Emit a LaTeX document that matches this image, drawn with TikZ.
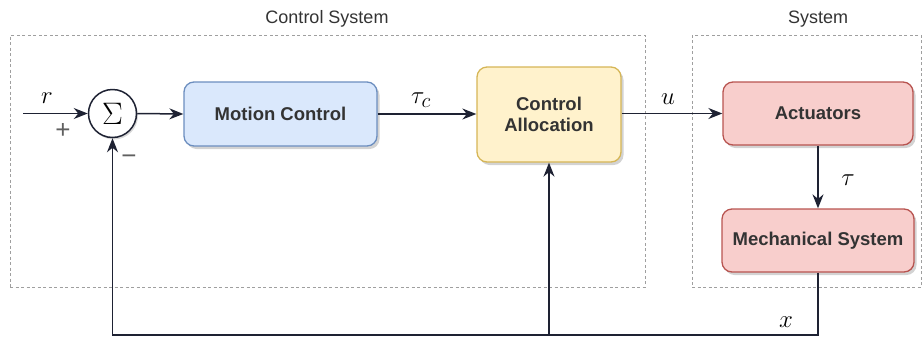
\documentclass[tikz,border=0pt]{standalone}
\usepackage{graphicx}
\usepackage{fontspec}
\setmainfont{Liberation Sans}
\usetikzlibrary{arrows.meta,shadows}

\definecolor{mcfill}{HTML}{DAE8FC}
\definecolor{mcline}{HTML}{6C8EBF}
\definecolor{cafill}{HTML}{FFF2CC}
\definecolor{caline}{HTML}{D6B656}
\definecolor{acfill}{HTML}{F8CECC}
\definecolor{acline}{HTML}{B85450}
\definecolor{wire}{HTML}{1E2233}
\definecolor{txt}{HTML}{333333}

\newcommand{\mathlbl}[1]{\fontsize{24.88}{28}\selectfont$#1$}

\tikzset{
  block/.style={draw, rounded corners=10pt, line width=1.3pt, align=center,
    font=\fontsize{18.5}{21}\selectfont\bfseries, text=txt,
    drop shadow={opacity=0.35, shadow xshift=2.5pt, shadow yshift=-3pt}},
  groupbox/.style={draw=gray!75, dash pattern=on 3pt off 2.5pt, line width=0.8pt},
  grouplbl/.style={font=\fontsize{18}{21}\selectfont, text=txt},
  wireline/.style={draw=wire, line width=1.5pt},
  flow/.style={wireline, -{Stealth[length=14pt,width=11pt]}},
  signlbl/.style={font=\fontsize{26}{30}\selectfont, text=gray!75!black},
}

\begin{document}
\begin{tikzpicture}[x=1pt,y=-1pt]
  \useasboundingbox (0,0) rectangle (923,338);

  % grouping frames
  \node[groupbox, minimum width=635pt, minimum height=252pt] (cs) at (327.5,161) {};
  \node[groupbox, minimum width=229pt, minimum height=252pt] (sys) at (806.5,161) {};
  \node[grouplbl] (cslbl) at (327,19) {Control System};
  \node[grouplbl] (syslbl) at (818,19) {System};

  % summing junction
  \node[draw=wire, circle, line width=1.5pt, minimum size=48pt, inner sep=0pt, fill=white,
        drop shadow={opacity=0.3, shadow xshift=1.5pt, shadow yshift=-2pt}]
        (sum) at (112.5,113.5) {\scalebox{1.25}{\fontsize{24.88}{28}\selectfont$\Sigma$}};

  % blocks
  \node[block, fill=mcfill, draw=mcline, minimum width=193pt, minimum height=64pt]
        (mc) at (280.5,114) {Motion Control};
  \node[block, fill=cafill, draw=caline, minimum width=144pt, minimum height=95pt]
        (ca) at (549,114.5) {Control\\Allocation};
  \node[block, fill=acfill, draw=acline, minimum width=190pt, minimum height=63pt]
        (act) at (818,113.5) {Actuators};
  \node[block, fill=acfill, draw=acline, minimum width=192pt, minimum height=63pt]
        (mech) at (818,240.5) {Mechanical System};

  % free ends of the loop
  \coordinate (in) at (23,113.5);
  \coordinate (fbR) at (818,335);
  \coordinate (fbM) at (549,335);
  \coordinate (fbL) at (112.5,335);

  % forward path
  \draw[flow] (in) -- (sum.west);
  \draw[flow] (sum.east) -- (mc.west);
  \draw[flow] (mc.east) -- (ca.west |- mc.east);
  \draw[flow] (ca.east |- act.west) -- (act.west);
  \draw[flow] (act.south) -- (mech.north);

  % feedback path
  \draw[flow] (mech.south) -- (fbR) -- (fbL) -- (sum.south);
  \draw[flow] (fbM) -- (ca.south);

  % signal labels
  \node (lr) at (47,98) {\mathlbl{r}};
  \node[signlbl] (lplus) at (63,131) {+};
  \node[signlbl] (lminus) at (129,160) {−};
  \node (ltc) at (421,100) {\mathlbl{\tau_c}};
  \node (lu) at (668,99) {\mathlbl{u}};
  \node (lt) at (848,180) {\mathlbl{\tau}};
  \node (lx) at (786,322) {\mathlbl{x}};
\end{tikzpicture}
\end{document}
